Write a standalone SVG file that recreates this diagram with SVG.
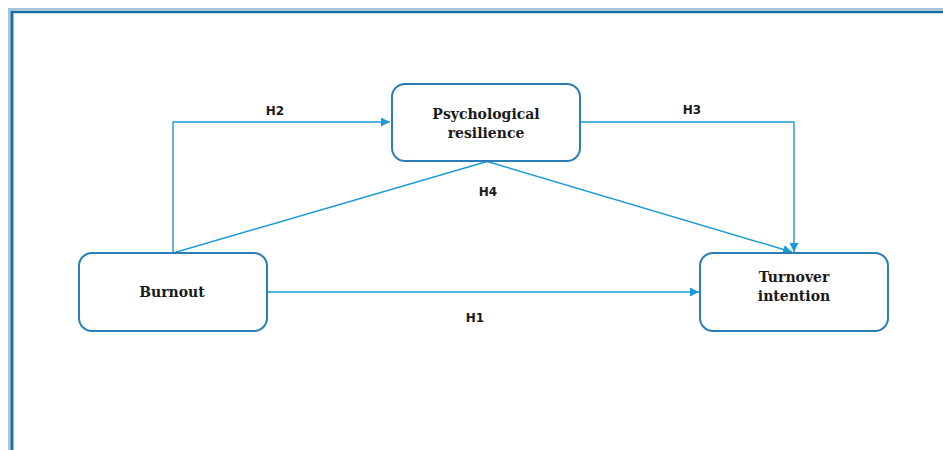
<svg xmlns="http://www.w3.org/2000/svg" width="943" height="450" viewBox="0 0 943 450">
<defs>
<marker id="arr" viewBox="0 0 10 10" refX="10" refY="5" markerWidth="9" markerHeight="9" markerUnits="userSpaceOnUse" orient="auto">
<path d="M0,0 L10,5 L0,10 z" fill="#1a9ad6"/>
</marker>
<style>
.node rect{fill:#fff;stroke:#2a7db5;stroke-width:2}
.node text{font-family:"DejaVu Serif","Liberation Serif",serif;font-weight:bold;font-size:14px;fill:#1a1a1a;text-anchor:middle}
.conn{fill:none;stroke:#1a9ad6;stroke-width:1.4}
.lbl{font-family:"DejaVu Sans","Liberation Sans",sans-serif;font-weight:bold;font-size:12px;fill:#1a1a1a;text-anchor:middle}
</style>
</defs>
<rect width="943" height="450" fill="#fff"/>
<g id="frame" fill="none">
<path d="M9.3,450 V9.3 H943" stroke="#a8c4dc" stroke-width="2.6"/>
<path d="M11.8,450 V12 H943" stroke="#1e6ea6" stroke-width="2.6"/>
<path d="M13.6,450 V13.6" stroke="#8fb6d6" stroke-width="1"/>
</g>
<g id="connectors">
<path class="conn" d="M173,253 V122 H390" marker-end="url(#arr)"/>
<path class="conn" d="M581,122 H794 V252" marker-end="url(#arr)"/>
<path class="conn" d="M173,253 L487,161.5"/>
<path class="conn" d="M487,161.5 L792,252" marker-end="url(#arr)"/>
<path class="conn" d="M268,292 H699" marker-end="url(#arr)"/>
<text class="lbl" x="275" y="115">H2</text>
<text class="lbl" x="692" y="114">H3</text>
<text class="lbl" x="488" y="196">H4</text>
<text class="lbl" x="475" y="322">H1</text>
</g>
<g id="psych" class="node">
<rect x="392" y="84" width="188" height="77" rx="13"/>
<text x="486" y="119">Psychological</text>
<text x="486" y="138">resilience</text>
</g>
<g id="burnout" class="node">
<rect x="79" y="253" width="188" height="78" rx="13"/>
<text x="172" y="297">Burnout</text>
</g>
<g id="turnover" class="node">
<rect x="700" y="253" width="188" height="78" rx="13"/>
<text x="794" y="282">Turnover</text>
<text x="794" y="301">intention</text>
</g>
</svg>
